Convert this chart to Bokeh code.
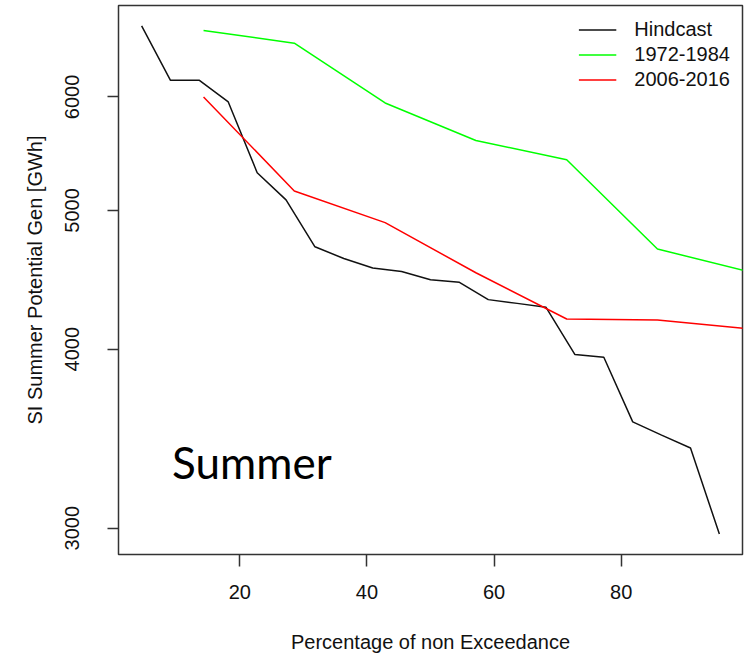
from bokeh.plotting import figure
from bokeh.models import Range1d, FixedTicker, PrintfTickFormatter, Legend, LegendItem, Label
from bokeh.embed import file_html
from bokeh.resources import INLINE

# Percentage of non exceedance
hind_x = [4.55, 9.09, 13.64, 18.18, 22.73, 27.27, 31.82, 36.36, 40.91, 45.45, 50.0,
          54.55, 59.09, 63.64, 68.18, 72.73, 77.27, 81.82, 86.36, 90.91, 95.45]
hind_y = [6727, 6163, 6163, 5952, 5312, 5085, 4716, 4628, 4558, 4533, 4473,
          4454, 4332, 4306, 4279, 3966, 3949, 3559, 3484, 3413, 2972]

period_x = [14.29, 28.57, 42.86, 57.14, 71.43, 85.71, 100.0]
p1972_y = [6677, 6542, 5942, 5595, 5424, 4699, 4532]
p2006_y = [6000, 5159, 4903, 4523, 4199, 4193, 4133]

x_ticks = [20, 40, 60, 80]
y_ticks = [3000, 4000, 5000, 6000]
series_names = ["Hindcast", "1972-1984", "2006-2016"]

FONT = "Liberation Sans"
TXT = "#111111"
AX = "#333333"

p = figure(width=745, height=655, output_backend="svg", toolbar_location=None,
           x_range=Range1d(0.909, 99.09), y_range=Range1d(2876, 6950),
           y_axis_type="log",
           min_border_left=118, min_border_right=3, min_border_top=5, min_border_bottom=101)

r1 = p.line(hind_x, hind_y, line_color="#111111", line_width=1.5)
r2 = p.line(period_x, p1972_y, line_color="#00ff00", line_width=1.5)
r3 = p.line(period_x, p2006_y, line_color="#ff0000", line_width=1.5)

p.grid.visible = False
p.outline_line_color = AX
p.outline_line_width = 1.5

p.xaxis.ticker = FixedTicker(ticks=x_ticks)
p.yaxis.ticker = FixedTicker(ticks=y_ticks)
p.yaxis.formatter = PrintfTickFormatter(format="%d")
p.yaxis.major_label_orientation = "vertical"

for ax in (p.xaxis, p.yaxis):
    ax.axis_line_color = None
    ax.major_tick_line_color = AX
    ax.major_tick_line_width = 1.5
    ax.major_tick_in = 0
    ax.minor_tick_line_color = None
    ax.major_label_text_font = FONT
    ax.major_label_text_font_size = "20px"
    ax.major_label_text_color = TXT
    ax.axis_label_text_font = FONT
    ax.axis_label_text_font_size = "20px"
    ax.axis_label_text_font_style = "normal"
    ax.axis_label_text_color = TXT

p.xaxis.major_tick_out = 12
p.yaxis.major_tick_out = 11
p.xaxis.major_label_standoff = 18
p.yaxis.major_label_standoff = 28
p.xaxis.axis_label = "Percentage of non Exceedance"
p.yaxis.axis_label = "SI Summer Potential Gen [GWh]"
p.xaxis.axis_label_standoff = 29
p.yaxis.axis_label_standoff = 17

legend = Legend(items=[LegendItem(label=series_names[0], renderers=[r1]),
                       LegendItem(label=series_names[1], renderers=[r2]),
                       LegendItem(label=series_names[2], renderers=[r3])],
                location="top_right")
legend.label_text_font = FONT
legend.label_text_font_size = "20px"
legend.label_text_color = TXT
legend.glyph_width = 38
legend.glyph_height = 25
legend.label_height = 25
legend.label_standoff = 18
legend.spacing = 0
legend.padding = 10
legend.margin = 2
legend.border_line_alpha = 0
legend.background_fill_alpha = 0
p.add_layout(legend)

p.add_layout(Label(x=21.9, y=3336, text="Summer", text_font="Lato",
                   text_font_size="44px", text_align="center",
                   text_baseline="alphabetic", text_color="black"))

open("out.html", "w").write(file_html(p, INLINE))
